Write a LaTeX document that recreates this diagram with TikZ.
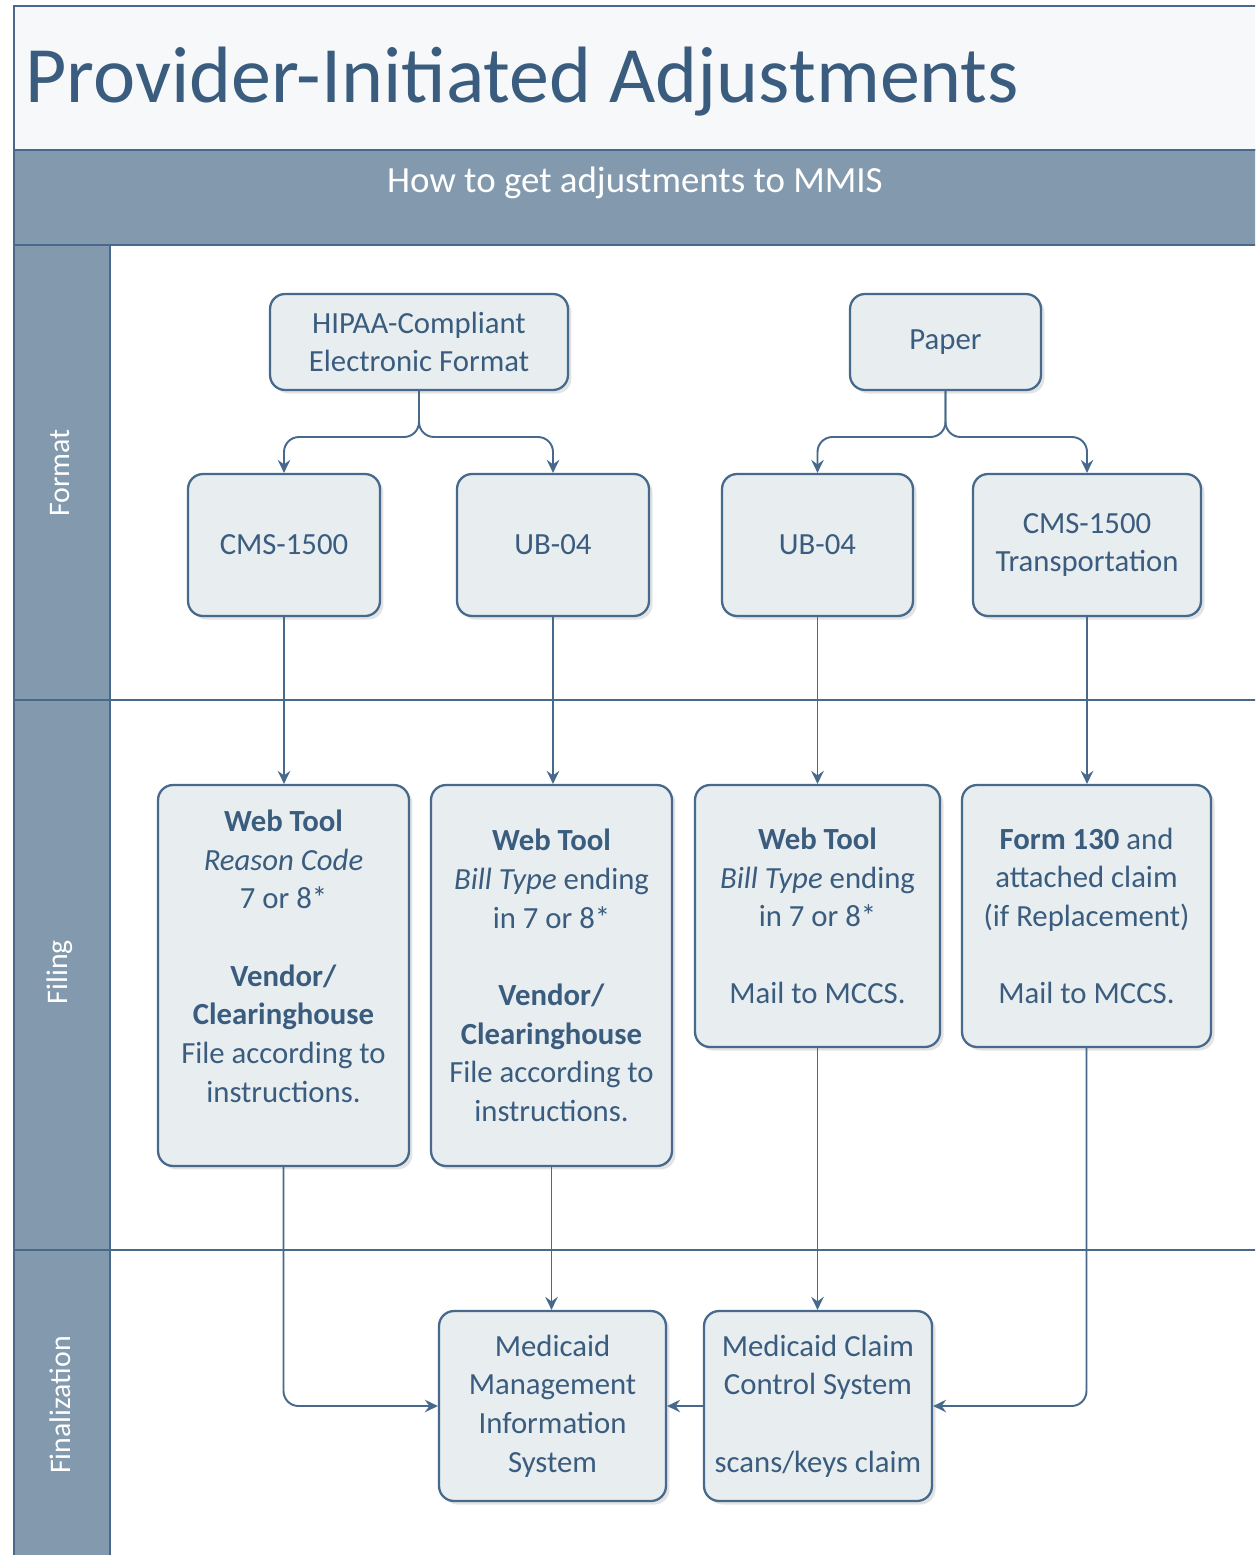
\documentclass[tikz,border=0pt]{standalone}
\usepackage{fontspec}
\setmainfont{Carlito}
\usetikzlibrary{arrows.meta,shadows}
\definecolor{titlebg}{HTML}{F7F8FA}
\definecolor{lanebg}{HTML}{8299AE}
\definecolor{edge}{HTML}{46698C}
\definecolor{ink}{HTML}{3A5C7E}
\definecolor{boxbg}{HTML}{E8EDF0}
\tikzset{
  flowbox/.style={draw=edge, line width=1.3pt, fill=boxbg, rounded corners=0.3cm,
    inner sep=0pt, align=center, text=ink,
    font=\fontsize{17.5}{22}\selectfont,
    drop shadow={opacity=0.22, shadow xshift=2pt, shadow yshift=-2pt}},
  conn/.style={draw=edge, line width=1.1pt, rounded corners=0.3cm,
    -{Stealth[length=2.6mm,width=2.5mm,inset=0.9mm]}},
  lanetext/.style={text=white, rotate=90, font=\fontsize{17}{20}\selectfont},
  frame/.style={draw=edge, line width=1.1pt}
}
\begin{document}
\begin{tikzpicture}[x=0.02cm,y=-0.02cm]
\useasboundingbox (0,0) rectangle (1255,1555);
\clip (0,0) rectangle (1255,1555);
% background frame
\fill[white] (0,0) rectangle (1255,1555);
\path[frame, fill=titlebg] (14,6) rectangle (1270,150);
\path[frame, fill=lanebg] (14,150) rectangle (1270,245);
\path[frame, fill=lanebg] (14,245) rectangle (110,1570);
\draw[frame] (14,700) -- (1270,700);
\draw[frame] (14,1250) -- (1270,1250);
% titles
\node[anchor=base west, text=ink, font=\fontsize{45.5}{50}\selectfont, inner sep=0pt] (title) at (25,102) {Provider-Initiated Adjustments};
\node[text=white, font=\fontsize{21}{25}\selectfont] (sub) at (635,183) {How to get adjustments to MMIS};
\node[lanetext] (laneformat) at (60,473) {Format};
\node[lanetext] (lanefiling) at (60,972) {Filing};
\node[lanetext] (lanefinal) at (60,1405) {Finalization};
% format lane
\node[flowbox, minimum width=5.96cm, minimum height=1.92cm] (hipaa) at (419,342) {HIPAA-Compliant\\Electronic Format};
\node[flowbox, minimum width=3.82cm, minimum height=1.92cm] (paper) at (945.5,342) {Paper};
\node[flowbox, minimum width=3.84cm, minimum height=2.84cm] (cmsA) at (284,545) {CMS-1500};
\node[flowbox, minimum width=3.84cm, minimum height=2.84cm] (ubB) at (553,545) {UB-04};
\node[flowbox, minimum width=3.82cm, minimum height=2.84cm] (ubC) at (817.5,545) {UB-04};
\node[flowbox, minimum width=4.56cm, minimum height=2.84cm] (cmsD) at (1087,545) {CMS-1500\\Transportation};
% filing lane
\node[flowbox, minimum width=5.02cm, minimum height=7.62cm] (f1) at (283.5,975.5)
  {\textbf{Web Tool}\\\textit{Reason Code}\\7 or 8*\\[22pt]\textbf{Vendor/}\\\textbf{Clearinghouse}\\File according to\\instructions.\\\mbox{}};
\node[flowbox, minimum width=4.82cm, minimum height=7.62cm] (f2) at (551.5,975.5)
  {\textbf{Web Tool}\\\textit{Bill Type} ending\\in 7 or 8*\\[22pt]\textbf{Vendor/}\\\textbf{Clearinghouse}\\File according to\\instructions.};
\node[flowbox, minimum width=4.9cm, minimum height=5.24cm] (f3) at (817.5,916)
  {\textbf{Web Tool}\\\textit{Bill Type} ending\\in 7 or 8*\\[22pt]Mail to MCCS.};
\node[flowbox, minimum width=4.98cm, minimum height=5.24cm] (f4) at (1086.5,916)
  {\textbf{Form 130} and\\attached claim\\(if Replacement)\\[22pt]Mail to MCCS.};
% finalization lane
\node[flowbox, minimum width=4.54cm, minimum height=3.8cm] (mmis) at (552.5,1406)
  {Medicaid\\Management\\Information\\System};
\node[flowbox, minimum width=4.56cm, minimum height=3.8cm] (mccs) at (818,1406)
  {Medicaid Claim\\Control System\\[22pt]scans/keys claim};
% connectors
\coordinate (hsplit) at (hipaa.south |- 0,437);
\coordinate (psplit) at (paper.south |- 0,437);
\draw[conn] (hipaa.south) -- (hsplit) -| (cmsA.north);
\draw[conn] (hipaa.south) -- (hsplit) -| (ubB.north);
\draw[conn] (paper.south) -- (psplit) -| (ubC.north);
\draw[conn] (paper.south) -- (psplit) -| (cmsD.north);
\draw[conn] (cmsA.south) -- (cmsA.south |- f1.north);
\draw[conn] (ubB.south) -- (ubB.south |- f2.north);
\draw[conn] (ubC.south) -- (ubC.south |- f3.north);
\draw[conn] (cmsD.south) -- (cmsD.south |- f4.north);
\draw[conn] (f1.south) |- (mmis.west);
\draw[conn] (f2.south) -- (f2.south |- mmis.north);
\draw[conn] (f3.south) -- (f3.south |- mccs.north);
\draw[conn] (f4.south) |- (mccs.east);
\draw[conn] (mccs.west) -- (mmis.east);
\end{tikzpicture}
\end{document}
